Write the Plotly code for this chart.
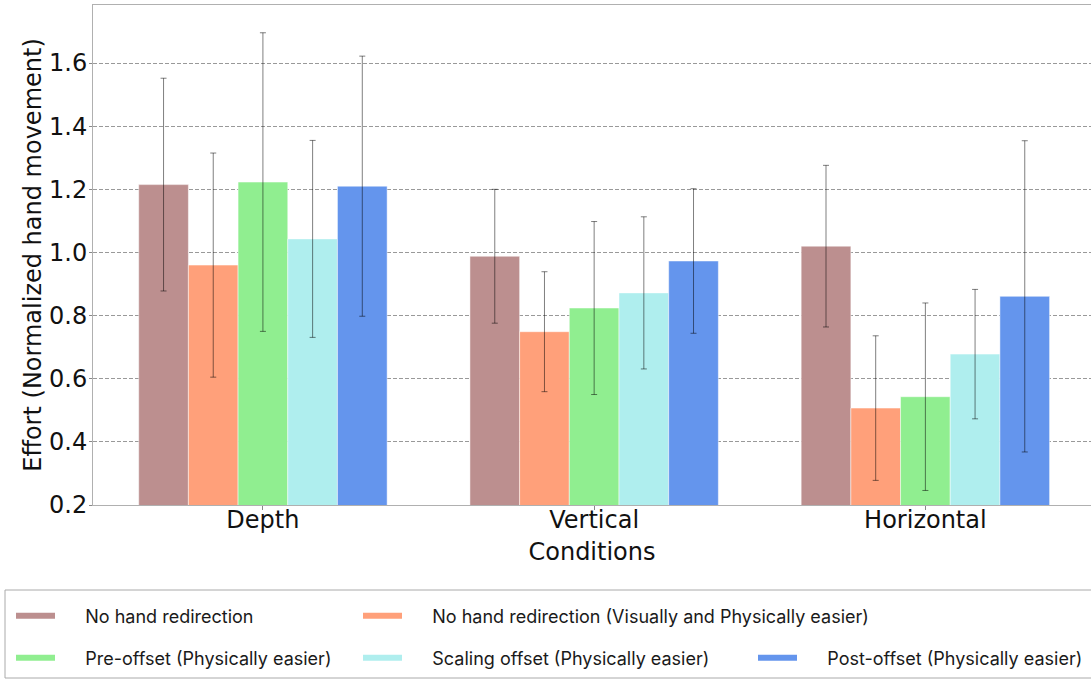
import plotly.graph_objects as go

conditions = ["Depth", "Vertical", "Horizontal"]
series_names = [
    "No hand redirection",
    "No hand redirection (Visually and Physically easier)",
    "Pre-offset (Physically easier)",
    "Scaling offset (Physically easier)",
    "Post-offset (Physically easier)",
]
no_redirection = [1.215, 0.988, 1.020]
no_redirection_err = [0.337, 0.212, 0.256]
no_redirection_easy = [0.960, 0.749, 0.507]
no_redirection_easy_err = [0.355, 0.190, 0.229]
pre_offset = [1.223, 0.824, 0.543]
pre_offset_err = [0.473, 0.274, 0.297]
scaling_offset = [1.043, 0.872, 0.678]
scaling_offset_err = [0.312, 0.241, 0.205]
post_offset = [1.210, 0.973, 0.861]
post_offset_err = [0.412, 0.229, 0.493]
y_ticks = [0.2, 0.4, 0.6, 0.8, 1.0, 1.2, 1.4, 1.6]

values = [no_redirection, no_redirection_easy, pre_offset, scaling_offset, post_offset]
errors = [no_redirection_err, no_redirection_easy_err, pre_offset_err, scaling_offset_err, post_offset_err]
colors = ["#BC8F8F", "#FFA07A", "#90EE90", "#AFEEEE", "#6495ED"]
legend_ids = ["legend", "legend2", "legend4", "legend5", "legend3"]

W, H = 1091, 679
L, R, T, B = 93, 0, 5, 174
pw, ph = W - L - R, H - T - B

def px_x(p):
    return (p - L) / pw

def px_y(p):
    return (H - B - p) / ph

fig = go.Figure()
for name, vals, errs, col in zip(series_names, values, errors, colors):
    fig.add_trace(go.Bar(
        x=conditions, y=vals, name=name,
        marker=dict(color=col, line=dict(color="rgba(255,255,255,0.6)", width=0.8)),
        error_y=dict(type="data", array=errs, color="rgba(0,0,0,0.5)", thickness=1, width=3),
        showlegend=False,
    ))
pad = "\u00a0" * 5
for name, col, lg in zip(series_names, colors, legend_ids):
    fig.add_trace(go.Scatter(
        x=[None], y=[None], mode="lines", name=pad + name,
        line=dict(color=col, width=6), legend=lg, showlegend=True,
    ))

legend_font = dict(family="Inter", size=18, color="#1a1a1a")
def leg(xp, yp):
    return dict(x=px_x(xp), y=px_y(yp), xanchor="left", yanchor="middle",
                bgcolor="rgba(0,0,0,0)", borderwidth=0, font=legend_font,
                itemwidth=39, orientation="v")

fig.update_layout(
    width=W, height=H,
    margin=dict(l=L, r=R, t=T, b=B, autoexpand=False),
    paper_bgcolor="white", plot_bgcolor="white",
    barmode="group", bargap=0.25, bargroupgap=0,
    font=dict(family="DejaVu Sans", size=24, color="#111"),
    legend=leg(11, 616),
    legend2=leg(358, 616),
    legend4=leg(11, 658),
    legend5=leg(358, 658),
    legend3=leg(753, 658),
    xaxis=dict(
        range=[-0.513, 2.5], showline=True, mirror=True, linecolor="#b0b0b0", linewidth=1,
        ticks="outside", ticklen=4, tickcolor="#888", showgrid=False,
        ticklabelstandoff=-11,
        title=dict(text="Conditions", standoff=10, font=dict(size=24)),
        tickfont=dict(size=24),
    ),
    yaxis=dict(
        range=[0.2, 1.784], tickvals=y_ticks, tickformat=".1f",
        showline=True, mirror=True, linecolor="#b0b0b0", linewidth=1,
        ticks="outside", ticklen=3, tickcolor="#888",
        ticklabelstandoff=-3,
        showgrid=True, gridcolor="#999999", griddash="4px,2px", gridwidth=1,
        zeroline=False,
        title=dict(text="Effort (Normalized hand movement)", standoff=0, font=dict(size=24)),
        tickfont=dict(size=24),
    ),
    shapes=[dict(type="rect", xref="paper", yref="paper",
                 x0=px_x(5), x1=px_x(1100), y0=px_y(590), y1=px_y(678),
                 line=dict(color="#aaaaaa", width=1), fillcolor="rgba(0,0,0,0)", layer="above")],
)

fig.write_html("out.html", config={"displayModeBar": False},
               post_script="document.body.style.margin='0';")
